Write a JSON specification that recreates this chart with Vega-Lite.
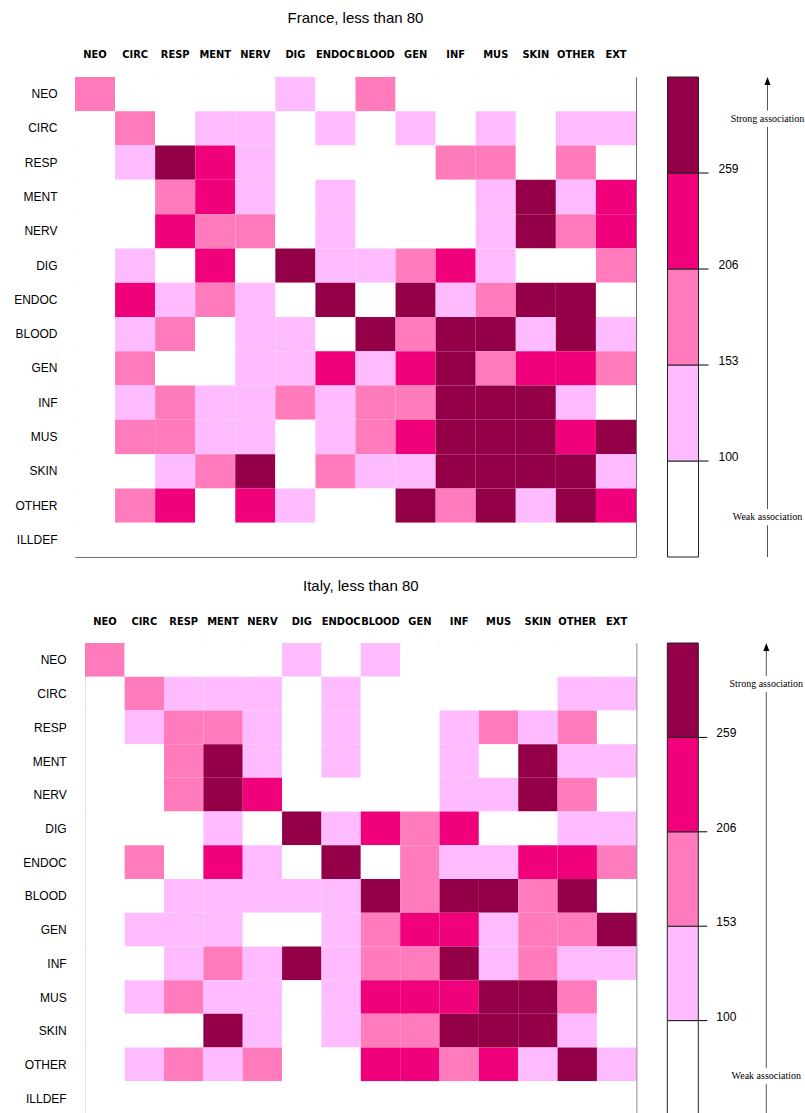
{
  "$schema": "https://vega.github.io/schema/vega-lite/v6.json",
  "background": "white",
  "padding": {"left": 0, "top": 10, "right": 0, "bottom": 0},
  "config": {
    "font": "Liberation Sans",
    "view": {"stroke": null}
  },
  "datasets": {
    "france": [
      {"row": "NEO", "NEO": 2, "CIRC": 0, "RESP": 0, "MENT": 0, "NERV": 0, "DIG": 1, "ENDOC": 0, "BLOOD": 2, "GEN": 0, "INF": 0, "MUS": 0, "SKIN": 0, "OTHER": 0, "EXT": 0},
      {"row": "CIRC", "NEO": 0, "CIRC": 2, "RESP": 0, "MENT": 1, "NERV": 1, "DIG": 0, "ENDOC": 1, "BLOOD": 0, "GEN": 1, "INF": 0, "MUS": 1, "SKIN": 0, "OTHER": 1, "EXT": 1},
      {"row": "RESP", "NEO": 0, "CIRC": 1, "RESP": 4, "MENT": 3, "NERV": 1, "DIG": 0, "ENDOC": 0, "BLOOD": 0, "GEN": 0, "INF": 2, "MUS": 2, "SKIN": 0, "OTHER": 2, "EXT": 0},
      {"row": "MENT", "NEO": 0, "CIRC": 0, "RESP": 2, "MENT": 3, "NERV": 1, "DIG": 0, "ENDOC": 1, "BLOOD": 0, "GEN": 0, "INF": 0, "MUS": 1, "SKIN": 4, "OTHER": 1, "EXT": 3},
      {"row": "NERV", "NEO": 0, "CIRC": 0, "RESP": 3, "MENT": 2, "NERV": 2, "DIG": 0, "ENDOC": 1, "BLOOD": 0, "GEN": 0, "INF": 0, "MUS": 1, "SKIN": 4, "OTHER": 2, "EXT": 3},
      {"row": "DIG", "NEO": 0, "CIRC": 1, "RESP": 0, "MENT": 3, "NERV": 0, "DIG": 4, "ENDOC": 1, "BLOOD": 1, "GEN": 2, "INF": 3, "MUS": 1, "SKIN": 0, "OTHER": 0, "EXT": 2},
      {"row": "ENDOC", "NEO": 0, "CIRC": 3, "RESP": 1, "MENT": 2, "NERV": 1, "DIG": 0, "ENDOC": 4, "BLOOD": 0, "GEN": 4, "INF": 1, "MUS": 2, "SKIN": 4, "OTHER": 4, "EXT": 0},
      {"row": "BLOOD", "NEO": 0, "CIRC": 1, "RESP": 2, "MENT": 0, "NERV": 1, "DIG": 1, "ENDOC": 0, "BLOOD": 4, "GEN": 2, "INF": 4, "MUS": 4, "SKIN": 1, "OTHER": 4, "EXT": 1},
      {"row": "GEN", "NEO": 0, "CIRC": 2, "RESP": 0, "MENT": 0, "NERV": 1, "DIG": 1, "ENDOC": 3, "BLOOD": 1, "GEN": 3, "INF": 4, "MUS": 2, "SKIN": 3, "OTHER": 3, "EXT": 2},
      {"row": "INF", "NEO": 0, "CIRC": 1, "RESP": 2, "MENT": 1, "NERV": 1, "DIG": 2, "ENDOC": 1, "BLOOD": 2, "GEN": 2, "INF": 4, "MUS": 4, "SKIN": 4, "OTHER": 1, "EXT": 0},
      {"row": "MUS", "NEO": 0, "CIRC": 2, "RESP": 2, "MENT": 1, "NERV": 1, "DIG": 0, "ENDOC": 1, "BLOOD": 2, "GEN": 3, "INF": 4, "MUS": 4, "SKIN": 4, "OTHER": 3, "EXT": 4},
      {"row": "SKIN", "NEO": 0, "CIRC": 0, "RESP": 1, "MENT": 2, "NERV": 4, "DIG": 0, "ENDOC": 2, "BLOOD": 1, "GEN": 1, "INF": 4, "MUS": 4, "SKIN": 4, "OTHER": 4, "EXT": 1},
      {"row": "OTHER", "NEO": 0, "CIRC": 2, "RESP": 3, "MENT": 0, "NERV": 3, "DIG": 1, "ENDOC": 0, "BLOOD": 0, "GEN": 4, "INF": 2, "MUS": 4, "SKIN": 1, "OTHER": 4, "EXT": 3},
      {"row": "ILLDEF", "NEO": 0, "CIRC": 0, "RESP": 0, "MENT": 0, "NERV": 0, "DIG": 0, "ENDOC": 0, "BLOOD": 0, "GEN": 0, "INF": 0, "MUS": 0, "SKIN": 0, "OTHER": 0, "EXT": 0}
    ],
    "italy": [
      {"row": "NEO", "NEO": 2, "CIRC": 0, "RESP": 0, "MENT": 0, "NERV": 0, "DIG": 1, "ENDOC": 0, "BLOOD": 1, "GEN": 0, "INF": 0, "MUS": 0, "SKIN": 0, "OTHER": 0, "EXT": 0},
      {"row": "CIRC", "NEO": 0, "CIRC": 2, "RESP": 1, "MENT": 1, "NERV": 1, "DIG": 0, "ENDOC": 1, "BLOOD": 0, "GEN": 0, "INF": 0, "MUS": 0, "SKIN": 0, "OTHER": 1, "EXT": 1},
      {"row": "RESP", "NEO": 0, "CIRC": 1, "RESP": 2, "MENT": 2, "NERV": 1, "DIG": 0, "ENDOC": 1, "BLOOD": 0, "GEN": 0, "INF": 1, "MUS": 2, "SKIN": 1, "OTHER": 2, "EXT": 0},
      {"row": "MENT", "NEO": 0, "CIRC": 0, "RESP": 2, "MENT": 4, "NERV": 1, "DIG": 0, "ENDOC": 1, "BLOOD": 0, "GEN": 0, "INF": 1, "MUS": 0, "SKIN": 4, "OTHER": 1, "EXT": 1},
      {"row": "NERV", "NEO": 0, "CIRC": 0, "RESP": 2, "MENT": 4, "NERV": 3, "DIG": 0, "ENDOC": 0, "BLOOD": 0, "GEN": 0, "INF": 1, "MUS": 1, "SKIN": 4, "OTHER": 2, "EXT": 0},
      {"row": "DIG", "NEO": 0, "CIRC": 0, "RESP": 0, "MENT": 1, "NERV": 0, "DIG": 4, "ENDOC": 1, "BLOOD": 3, "GEN": 2, "INF": 3, "MUS": 0, "SKIN": 0, "OTHER": 1, "EXT": 1},
      {"row": "ENDOC", "NEO": 0, "CIRC": 2, "RESP": 0, "MENT": 3, "NERV": 1, "DIG": 0, "ENDOC": 4, "BLOOD": 0, "GEN": 2, "INF": 1, "MUS": 1, "SKIN": 3, "OTHER": 3, "EXT": 2},
      {"row": "BLOOD", "NEO": 0, "CIRC": 0, "RESP": 1, "MENT": 1, "NERV": 1, "DIG": 1, "ENDOC": 1, "BLOOD": 4, "GEN": 2, "INF": 4, "MUS": 4, "SKIN": 2, "OTHER": 4, "EXT": 0},
      {"row": "GEN", "NEO": 0, "CIRC": 1, "RESP": 1, "MENT": 1, "NERV": 0, "DIG": 0, "ENDOC": 1, "BLOOD": 2, "GEN": 3, "INF": 3, "MUS": 1, "SKIN": 2, "OTHER": 2, "EXT": 4},
      {"row": "INF", "NEO": 0, "CIRC": 0, "RESP": 1, "MENT": 2, "NERV": 1, "DIG": 4, "ENDOC": 1, "BLOOD": 2, "GEN": 2, "INF": 4, "MUS": 1, "SKIN": 2, "OTHER": 1, "EXT": 1},
      {"row": "MUS", "NEO": 0, "CIRC": 1, "RESP": 2, "MENT": 1, "NERV": 1, "DIG": 0, "ENDOC": 1, "BLOOD": 3, "GEN": 3, "INF": 3, "MUS": 4, "SKIN": 4, "OTHER": 2, "EXT": 0},
      {"row": "SKIN", "NEO": 0, "CIRC": 0, "RESP": 0, "MENT": 4, "NERV": 1, "DIG": 0, "ENDOC": 1, "BLOOD": 2, "GEN": 2, "INF": 4, "MUS": 4, "SKIN": 4, "OTHER": 1, "EXT": 0},
      {"row": "OTHER", "NEO": 0, "CIRC": 1, "RESP": 2, "MENT": 1, "NERV": 2, "DIG": 0, "ENDOC": 0, "BLOOD": 3, "GEN": 3, "INF": 2, "MUS": 3, "SKIN": 1, "OTHER": 4, "EXT": 1},
      {"row": "ILLDEF", "NEO": 0, "CIRC": 0, "RESP": 0, "MENT": 0, "NERV": 0, "DIG": 0, "ENDOC": 0, "BLOOD": 0, "GEN": 0, "INF": 0, "MUS": 0, "SKIN": 0, "OTHER": 0, "EXT": 0}
    ],
    "bands": [
      {"level": 0, "lo": 47, "hi": 100},
      {"level": 1, "lo": 100, "hi": 153},
      {"level": 2, "lo": 153, "hi": 206},
      {"level": 3, "lo": 206, "hi": 259},
      {"level": 4, "lo": 259, "hi": 312}
    ]
  },
  "concat": [
    {
      "spacing": 29.5,
      "hconcat": [
        {
          "title": {"text": "France, less than 80", "fontSize": 15, "fontWeight": "normal", "color": "#000", "offset": 22},
          "width": 561,
          "height": 480,
          "view": {"stroke": "#707070"},
          "data": {"name": "france"},
          "transform": [{"fold": ["NEO", "CIRC", "RESP", "MENT", "NERV", "DIG", "ENDOC", "BLOOD", "GEN", "INF", "MUS", "SKIN", "OTHER", "EXT"], "as": ["col", "level"]}],
          "mark": "rect",
          "encoding": {
            "x": {"field": "col", "type": "nominal", "sort": ["NEO", "CIRC", "RESP", "MENT", "NERV", "DIG", "ENDOC", "BLOOD", "GEN", "INF", "MUS", "SKIN", "OTHER", "EXT"],
              "axis": {"orient": "top", "title": null, "ticks": false, "tickSize": 0, "domain": false, "labelAngle": 0, "labelPadding": 18, "labelFont": "DejaVu Sans Condensed, Liberation Sans", "labelFontWeight": "bold", "labelFontSize": 11, "labelColor": "#000", "labelOverlap": false}},
            "y": {"field": "row", "type": "nominal", "sort": ["NEO", "CIRC", "RESP", "MENT", "NERV", "DIG", "ENDOC", "BLOOD", "GEN", "INF", "MUS", "SKIN", "OTHER", "ILLDEF"],
              "axis": {"title": null, "ticks": false, "tickSize": 0, "domain": false, "labelPadding": 18, "labelFontSize": 12, "labelColor": "#000", "minExtent": 74.5}},
            "color": {"field": "level", "type": "ordinal", "scale": {"domain": [0, 1, 2, 3, 4], "range": ["#ffffff", "#ffbbff", "#ff7bbb", "#f0007a", "#930047"]}, "legend": null}
          }
        },
        {
          "width": 130,
          "height": 480,
          "view": {"stroke": null},
          "layer": [
            {
              "data": {"name": "bands"},
              "mark": {"type": "rect", "stroke": "#222", "strokeWidth": 1},
              "encoding": {
                "x": {"datum": 0, "type": "quantitative", "scale": {"domain": [0, 130], "nice": false, "zero": false}, "axis": null},
                "x2": {"datum": 31},
                "y": {"field": "lo", "type": "quantitative", "scale": {"domain": [47, 312], "nice": false, "zero": false}, "axis": null},
                "y2": {"field": "hi"},
                "color": {"field": "level", "type": "ordinal", "scale": {"domain": [0, 1, 2, 3, 4], "range": ["#ffffff", "#ffbbff", "#ff7bbb", "#f0007a", "#930047"]}, "legend": null}
              }
            },
            {
              "data": {"name": "bands"},
              "transform": [{"filter": "datum.lo > 47"}],
              "mark": {"type": "rule", "color": "#000", "strokeWidth": 1},
              "encoding": {
                "x": {"datum": 31, "type": "quantitative", "scale": {"domain": [0, 130], "nice": false, "zero": false}, "axis": null},
                "x2": {"datum": 41},
                "y": {"field": "lo", "type": "quantitative", "scale": {"domain": [47, 312], "nice": false, "zero": false}, "axis": null}
              }
            },
            {
              "data": {"name": "bands"},
              "transform": [{"filter": "datum.lo > 47"}],
              "mark": {"type": "text", "align": "left", "baseline": "middle", "dy": -4, "fontSize": 12, "color": "#000"},
              "encoding": {
                "x": {"datum": 51, "type": "quantitative", "scale": {"domain": [0, 130], "nice": false, "zero": false}, "axis": null},
                "y": {"field": "lo", "type": "quantitative", "scale": {"domain": [47, 312], "nice": false, "zero": false}, "axis": null},
                "text": {"field": "lo", "type": "quantitative"}
              }
            },
            {
              "data": {"values": [{}]},
              "mark": {"type": "rule", "color": "#555", "strokeWidth": 1},
              "encoding": {
                "x": {"datum": 100, "type": "quantitative", "scale": {"domain": [0, 130], "nice": false, "zero": false}, "axis": null},
                "y": {"datum": 308, "type": "quantitative", "scale": {"domain": [47, 312], "nice": false, "zero": false}, "axis": null},
                "y2": {"datum": 293.5}
              }
            },
            {
              "data": {"values": [{}]},
              "mark": {"type": "rule", "color": "#555", "strokeWidth": 1},
              "encoding": {
                "x": {"datum": 100, "type": "quantitative", "scale": {"domain": [0, 130], "nice": false, "zero": false}, "axis": null},
                "y": {"datum": 284.5, "type": "quantitative", "scale": {"domain": [47, 312], "nice": false, "zero": false}, "axis": null},
                "y2": {"datum": 73.5}
              }
            },
            {
              "data": {"values": [{}]},
              "mark": {"type": "rule", "color": "#555", "strokeWidth": 1},
              "encoding": {
                "x": {"datum": 100, "type": "quantitative", "scale": {"domain": [0, 130], "nice": false, "zero": false}, "axis": null},
                "y": {"datum": 64.5, "type": "quantitative", "scale": {"domain": [47, 312], "nice": false, "zero": false}, "axis": null},
                "y2": {"datum": 47}
              }
            },
            {
              "data": {"values": [{}]},
              "mark": {"type": "point", "shape": "M0,0L-0.6,1.6L0.6,1.6Z", "size": 100, "filled": true, "color": "#000", "opacity": 1, "strokeWidth": 0},
              "encoding": {
                "x": {"datum": 100, "type": "quantitative", "scale": {"domain": [0, 130], "nice": false, "zero": false}, "axis": null},
                "y": {"datum": 312, "type": "quantitative", "scale": {"domain": [47, 312], "nice": false, "zero": false}, "axis": null}
              }
            },
            {
              "data": {"values": [{}]},
              "mark": {"type": "text", "align": "center", "baseline": "middle", "font": "Liberation Serif", "fontSize": 10, "color": "#000"},
              "encoding": {
                "x": {"datum": 100, "type": "quantitative", "scale": {"domain": [0, 130], "nice": false, "zero": false}, "axis": null},
                "y": {"datum": 289, "type": "quantitative", "scale": {"domain": [47, 312], "nice": false, "zero": false}, "axis": null},
                "text": {"value": "Strong association"}
              }
            },
            {
              "data": {"values": [{}]},
              "mark": {"type": "text", "align": "center", "baseline": "middle", "font": "Liberation Serif", "fontSize": 10, "color": "#000"},
              "encoding": {
                "x": {"datum": 100, "type": "quantitative", "scale": {"domain": [0, 130], "nice": false, "zero": false}, "axis": null},
                "y": {"datum": 69, "type": "quantitative", "scale": {"domain": [47, 312], "nice": false, "zero": false}, "axis": null},
                "text": {"value": "Weak association"}
              }
            }
          ]
        }
      ]
    },
    {
      "spacing": 8.3,
      "hconcat": [
        {
          "width": 1,
          "height": 472,
          "view": {"stroke": null},
          "data": {"name": "italy"},
          "mark": {"type": "point", "opacity": 0, "size": 0, "strokeWidth": 0},
          "encoding": {
            "y": {"field": "row", "type": "nominal", "sort": ["NEO", "CIRC", "RESP", "MENT", "NERV", "DIG", "ENDOC", "BLOOD", "GEN", "INF", "MUS", "SKIN", "OTHER", "ILLDEF"],
              "axis": {"title": null, "ticks": false, "tickSize": 0, "domain": false, "labelPadding": 8.8, "labelFontSize": 12, "labelColor": "#000"}}
          }
        },
        {
          "spacing": 29,
          "hconcat": [
            {
              "title": {"text": "Italy, less than 80", "fontSize": 15, "fontWeight": "normal", "color": "#000", "offset": 21},
              "width": 551,
              "height": 472,
              "view": {"stroke": "#707070"},
              "data": {"name": "italy"},
              "transform": [{"fold": ["NEO", "CIRC", "RESP", "MENT", "NERV", "DIG", "ENDOC", "BLOOD", "GEN", "INF", "MUS", "SKIN", "OTHER", "EXT"], "as": ["col", "level"]}],
              "mark": "rect",
              "encoding": {
                "x": {"field": "col", "type": "nominal", "sort": ["NEO", "CIRC", "RESP", "MENT", "NERV", "DIG", "ENDOC", "BLOOD", "GEN", "INF", "MUS", "SKIN", "OTHER", "EXT"],
                  "axis": {"orient": "top", "title": null, "ticks": false, "tickSize": 0, "domain": false, "labelAngle": 0, "labelPadding": 17, "labelFont": "DejaVu Sans Condensed, Liberation Sans", "labelFontWeight": "bold", "labelFontSize": 11, "labelColor": "#000", "labelOverlap": false}},
                "y": {"field": "row", "type": "nominal", "sort": ["NEO", "CIRC", "RESP", "MENT", "NERV", "DIG", "ENDOC", "BLOOD", "GEN", "INF", "MUS", "SKIN", "OTHER", "ILLDEF"], "axis": null},
                "color": {"field": "level", "type": "ordinal", "scale": {"domain": [0, 1, 2, 3, 4], "range": ["#ffffff", "#ffbbff", "#ff7bbb", "#f0007a", "#930047"]}, "legend": null}
              }
            },
            {
              "width": 130,
              "height": 472,
              "view": {"stroke": null},
              "layer": [
                {
                  "data": {"name": "bands"},
                  "mark": {"type": "rect", "stroke": "#222", "strokeWidth": 1},
                  "encoding": {
                    "x": {"datum": 0, "type": "quantitative", "scale": {"domain": [0, 130], "nice": false, "zero": false}, "axis": null},
                    "x2": {"datum": 31},
                    "y": {"field": "lo", "type": "quantitative", "scale": {"domain": [47, 312], "nice": false, "zero": false}, "axis": null},
                    "y2": {"field": "hi"},
                    "color": {"field": "level", "type": "ordinal", "scale": {"domain": [0, 1, 2, 3, 4], "range": ["#ffffff", "#ffbbff", "#ff7bbb", "#f0007a", "#930047"]}, "legend": null}
                  }
                },
                {
                  "data": {"name": "bands"},
                  "transform": [{"filter": "datum.lo > 47"}],
                  "mark": {"type": "rule", "color": "#000", "strokeWidth": 1},
                  "encoding": {
                    "x": {"datum": 31, "type": "quantitative", "scale": {"domain": [0, 130], "nice": false, "zero": false}, "axis": null},
                    "x2": {"datum": 40},
                    "y": {"field": "lo", "type": "quantitative", "scale": {"domain": [47, 312], "nice": false, "zero": false}, "axis": null}
                  }
                },
                {
                  "data": {"name": "bands"},
                  "transform": [{"filter": "datum.lo > 47"}],
                  "mark": {"type": "text", "align": "left", "baseline": "middle", "dy": -4, "fontSize": 12, "color": "#000"},
                  "encoding": {
                    "x": {"datum": 49, "type": "quantitative", "scale": {"domain": [0, 130], "nice": false, "zero": false}, "axis": null},
                    "y": {"field": "lo", "type": "quantitative", "scale": {"domain": [47, 312], "nice": false, "zero": false}, "axis": null},
                    "text": {"field": "lo", "type": "quantitative"}
                  }
                },
                {
                  "data": {"values": [{}]},
                  "mark": {"type": "rule", "color": "#555", "strokeWidth": 1},
                  "encoding": {
                    "x": {"datum": 99, "type": "quantitative", "scale": {"domain": [0, 130], "nice": false, "zero": false}, "axis": null},
                    "y": {"datum": 308, "type": "quantitative", "scale": {"domain": [47, 312], "nice": false, "zero": false}, "axis": null},
                    "y2": {"datum": 293.5}
                  }
                },
                {
                  "data": {"values": [{}]},
                  "mark": {"type": "rule", "color": "#555", "strokeWidth": 1},
                  "encoding": {
                    "x": {"datum": 99, "type": "quantitative", "scale": {"domain": [0, 130], "nice": false, "zero": false}, "axis": null},
                    "y": {"datum": 284.5, "type": "quantitative", "scale": {"domain": [47, 312], "nice": false, "zero": false}, "axis": null},
                    "y2": {"datum": 73.5}
                  }
                },
                {
                  "data": {"values": [{}]},
                  "mark": {"type": "rule", "color": "#555", "strokeWidth": 1},
                  "encoding": {
                    "x": {"datum": 99, "type": "quantitative", "scale": {"domain": [0, 130], "nice": false, "zero": false}, "axis": null},
                    "y": {"datum": 64.5, "type": "quantitative", "scale": {"domain": [47, 312], "nice": false, "zero": false}, "axis": null},
                    "y2": {"datum": 47}
                  }
                },
                {
                  "data": {"values": [{}]},
                  "mark": {"type": "point", "shape": "M0,0L-0.6,1.6L0.6,1.6Z", "size": 100, "filled": true, "color": "#000", "opacity": 1, "strokeWidth": 0},
                  "encoding": {
                    "x": {"datum": 99, "type": "quantitative", "scale": {"domain": [0, 130], "nice": false, "zero": false}, "axis": null},
                    "y": {"datum": 312, "type": "quantitative", "scale": {"domain": [47, 312], "nice": false, "zero": false}, "axis": null}
                  }
                },
                {
                  "data": {"values": [{}]},
                  "mark": {"type": "text", "align": "center", "baseline": "middle", "font": "Liberation Serif", "fontSize": 10, "color": "#000"},
                  "encoding": {
                    "x": {"datum": 99, "type": "quantitative", "scale": {"domain": [0, 130], "nice": false, "zero": false}, "axis": null},
                    "y": {"datum": 289, "type": "quantitative", "scale": {"domain": [47, 312], "nice": false, "zero": false}, "axis": null},
                    "text": {"value": "Strong association"}
                  }
                },
                {
                  "data": {"values": [{}]},
                  "mark": {"type": "text", "align": "center", "baseline": "middle", "font": "Liberation Serif", "fontSize": 10, "color": "#000"},
                  "encoding": {
                    "x": {"datum": 99, "type": "quantitative", "scale": {"domain": [0, 130], "nice": false, "zero": false}, "axis": null},
                    "y": {"datum": 69, "type": "quantitative", "scale": {"domain": [47, 312], "nice": false, "zero": false}, "axis": null},
                    "text": {"value": "Weak association"}
                  }
                }
              ]
            }
          ]
        }
      ]
    }
  ],
  "columns": 1,
  "align": "none",
  "spacing": 20
}
